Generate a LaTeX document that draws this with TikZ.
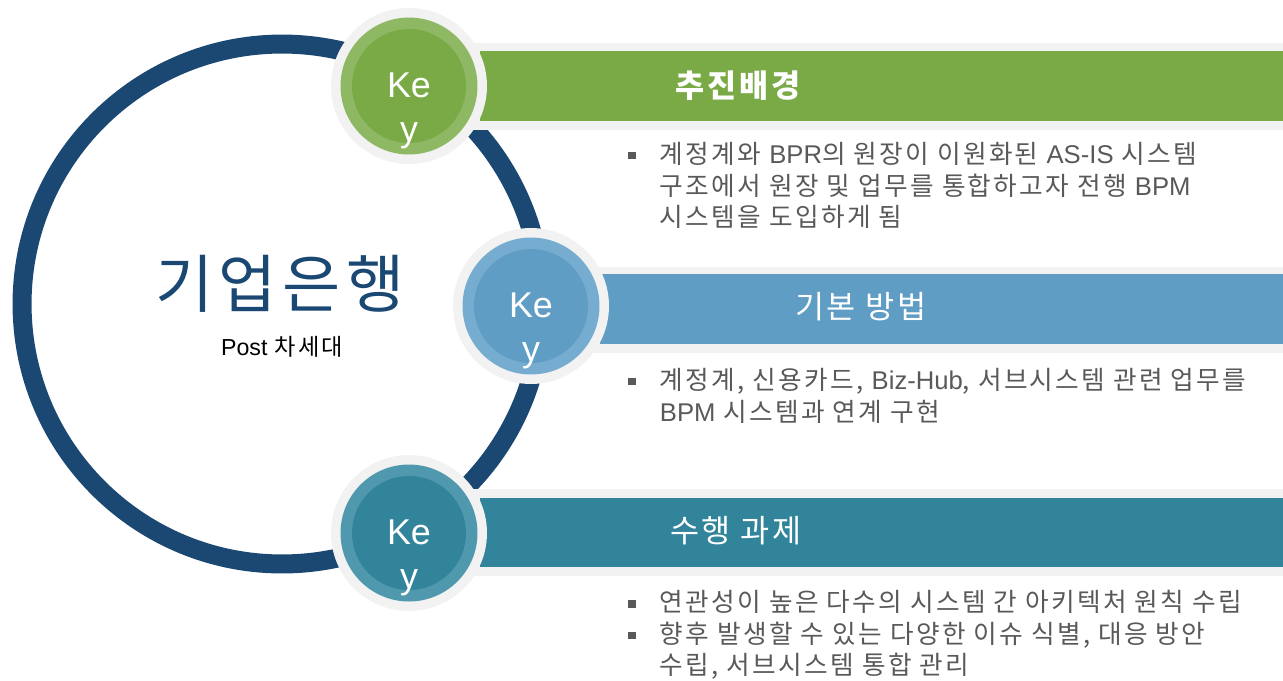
\documentclass[tikz,border=0pt]{standalone}
\usepackage{fontspec}
\setmainfont{Noto Sans CJK KR}
\newfontfamily\lat{Liberation Sans}
\newfontfamily\krwide{Noto Sans CJK KR}[LetterSpace=9]
\usepackage{tikz}
\definecolor{ringblue}{RGB}{26,72,114}
\definecolor{gband}{RGB}{242,242,242}
\definecolor{kgreen}{RGB}{122,170,70}
\definecolor{kgreenl}{RGB}{142,184,100}
\definecolor{kblue}{RGB}{95,157,197}
\definecolor{kbluel}{RGB}{118,172,207}
\definecolor{kteal}{RGB}{50,132,155}
\definecolor{kteall}{RGB}{80,152,173}
\definecolor{bodygray}{RGB}{89,89,89}
\newcommand{\blt}{\makebox[18pt][l]{\textcolor{bodygray}{\rule[0.3ex]{0.28em}{0.28em}}}}
\newcommand{\ind}{\hspace*{18pt}}

\begin{document}
\begin{tikzpicture}[x=0.02cm, y=-0.02cm,
	keyouter/.style = {circle, fill = gband, minimum size = 3.12cm, inner sep = 0},
	keymid/.style = {circle, minimum size = 2.74cm, inner sep = 0},
	keyin/.style = {circle, minimum size = 2.28cm, inner sep = 0},
	keytext/.style = {align = center, text = white, font = \lat\fontsize{20.4}{25}\selectfont},
	bartitle/.style = {text = white, font = \krwide\fontsize{18}{22}\selectfont},
	body/.style = {anchor = north west, inner sep = 0, align = left, text = bodygray, font = \krwide\fontsize{14.6}{17.9}\selectfont}]
			\useasboundingbox (0,0) rectangle (1283,680);
			\draw[ringblue, line width = 0.38cm] (282,304) circle [radius = 5.2cm];
			\fill[gband] (470,43) rectangle (1283,130);
			\fill[gband] (590,267) rectangle (1283,353);
			\fill[gband] (470,489) rectangle (1283,576);
			\node (bar1) at (480,51) [anchor = north west, fill = kgreen, minimum width = 16.06cm, minimum height = 1.4cm, inner sep = 0] {};
			\node (bar2) at (600,274) [anchor = north west, fill = kblue, minimum width = 13.66cm, minimum height = 1.4cm, inner sep = 0] {};
			\node (bar3) at (480,498) [anchor = north west, fill = kteal, minimum width = 16.06cm, minimum height = 1.38cm, inner sep = 0] {};
			\node (k1o) at (409,86) [keyouter] {};
			\node (k1m) at (k1o) [keymid, fill = kgreenl] {};
			\node (k1) at (k1o) [keyin, fill = kgreen] {};
			\node (k2o) at (531,306) [keyouter] {};
			\node (k2m) at (k2o) [keymid, fill = kbluel] {};
			\node (k2) at (k2o) [keyin, fill = kblue] {};
			\node (k3o) at (409,533) [keyouter] {};
			\node (k3m) at (k3o) [keymid, fill = kteall] {};
			\node (k3) at (k3o) [keyin, fill = kteal] {};
			\node (k1t) at (409,111) [keytext] {Ke\\y};
			\node (k2t) at (531,331) [keytext] {Ke\\y};
			\node (k3t) at (409,558) [keytext] {Ke\\y};
			\node (t1) at (738,86) [bartitle, font = \krwide\bfseries\fontsize{18}{22}\selectfont] {추진배경};
			\node (t2) at (861,307) [bartitle] {기본 방법};
			\node (t3) at (736,531) [bartitle] {수행 과제};
			\node (b1) at (628,142) [body] {\blt 계정계와 {\lat BPR}의 원장이 이원화된 {\lat AS-IS} 시스템\\
				\ind 구조에서 원장 및 업무를 통합하고자 전행 {\lat BPM}\\
				\ind 시스템을 도입하게 됨};
			\node (b2) at (628,368) [body] {\blt 계정계, 신용카드, {\lat Biz-Hub}, 서브시스템 관련 업무를\\
				\ind {\lat BPM} 시스템과 연계 구현};
			\node (b3) at (628,590) [body] {\blt 연관성이 높은 다수의 시스템 간 아키텍처 원칙 수립\\
				\blt 향후 발생할 수 있는 다양한 이슈 식별, 대응 방안\\
				\ind 수립, 서브시스템 통합 관리};
			\node (name) at (280,284) [text = ringblue, font = \krwide\fontsize{36}{42}\selectfont] {기업은행};
			\node (sub) at (282,347) [font = \krwide\fontsize{13.2}{16}\selectfont] {{\lat Post} 차세대};
\end{tikzpicture}
\end{document}
